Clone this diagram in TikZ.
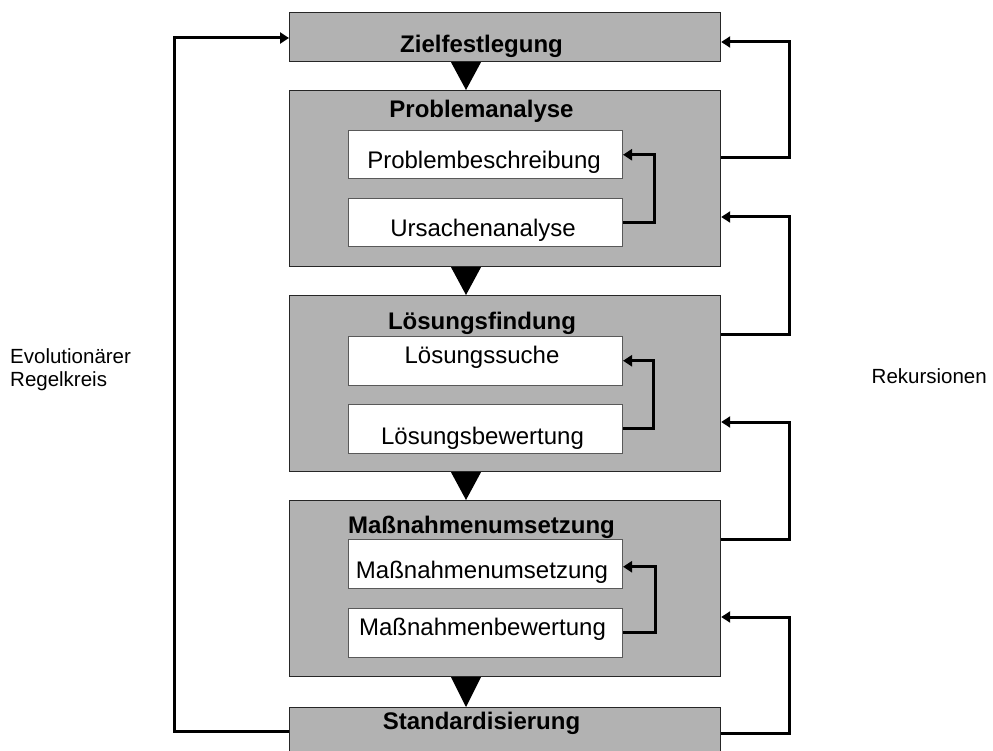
\documentclass[tikz,border=0pt]{standalone}
\usepackage{fontspec}
\setmainfont{Liberation Sans}
\usetikzlibrary{arrows.meta}
\definecolor{phasegray}{HTML}{B2B2B2}
\begin{document}
\begin{tikzpicture}[x=1pt,y=1pt,
  phase/.style={draw=black!85, line width=1.2pt, fill=phasegray, anchor=north west,
    inner sep=0pt, minimum width=431pt},
  stepbox/.style={draw=black!65, line width=1pt, fill=white, anchor=north west,
    inner sep=0pt, minimum width=274pt, minimum height=48.5pt},
  head/.style={font=\fontsize{24}{28}\selectfont\bfseries, anchor=base, inner sep=0pt},
  sub/.style={font=\fontsize{24}{28}\selectfont, anchor=base, inner sep=0pt},
  side/.style={font=\fontsize{20.5}{23}\selectfont, inner sep=0pt},
  conn/.style={line width=3pt, -{Triangle[length=9pt,width=11pt]}},
  flow/.style={fill=black}]
\useasboundingbox (0,0) rectangle (993,-751);

% phases of the cycle
\node[phase, minimum height=49pt]  (ziel) at (289,-12)  {};
\node[phase, minimum height=176pt] (prob) at (289,-90)  {};
\node[phase, minimum height=176pt] (loes) at (289,-295) {};
\node[phase, minimum height=176pt] (mass) at (289,-500) {};
\node[phase, minimum height=60pt]  (std)  at (289,-707) {};

\node[head] (zielt) at (481.5,-52.5)  {Zielfestlegung};
\node[head] (probt) at (481.5,-117.5) {Problemanalyse};
\node[head] (loest) at (482,-329.5)   {Lösungsfindung};
\node[head] (masst) at (481.5,-533)   {Maßnahmenumsetzung};
\node[head] (stdt)  at (481.5,-729.5) {Standardisierung};

% sub-steps
\node[stepbox] (pb) at (348,-130) {};
\node[stepbox] (ua) at (348,-198) {};
\node[stepbox] (ls) at (348,-336) {};
\node[stepbox] (lb) at (348,-404) {};
\node[stepbox] (mu) at (348,-539) {};
\node[stepbox] (mb) at (348,-608) {};

\node[sub] (pbt) at (484,-168.5)   {Problembeschreibung};
\node[sub] (uat) at (483,-236.5)   {Ursachenanalyse};
\node[sub] (lst) at (482,-363.5)   {Lösungssuche};
\node[sub] (lbt) at (482.5,-444.5) {Lösungsbewertung};
\node[sub] (mut) at (482,-578.5)   {Maßnahmenumsetzung};
\node[sub] (mbt) at (482.5,-635.5) {Maßnahmenbewertung};

% flow triangles between phases
\fill[flow] (ziel.south -| 451,0) -- (ziel.south -| 481,0) -- (prob.north -| 466,0) -- cycle;
\fill[flow] (prob.south -| 451,0) -- (prob.south -| 481,0) -- (loes.north -| 466,0) -- cycle;
\fill[flow] (loes.south -| 451,0) -- (loes.south -| 481,0) -- (mass.north -| 466,0) -- cycle;
\fill[flow] (mass.south -| 451,0) -- (mass.south -| 481,0) -- (std.north -| 466,0) -- cycle;

% inner loops
\draw[conn] (ua.east) -- ++(31,0) |- (pb.east);
\draw[conn] (lb.east) -- ++(30,0) |- (ls.east);
\draw[conn] (mb.east) -- ++(32,0) |- ([yshift=-3pt]mu.east);

% recursions
\draw[conn] ([yshift=-68pt]prob.north east) -- ++(68,0) |- ([yshift=-30pt]ziel.north east);
\draw[conn] ([yshift=-39pt]loes.north east) -- ++(68,0) |- ([yshift=-127pt]prob.north east);
\draw[conn] ([yshift=-39pt]mass.north east) -- ++(68,0) |- ([yshift=-127pt]loes.north east);
\draw[conn] ([yshift=-26pt]std.north east)  -- ++(68,0) |- ([yshift=-117pt]mass.north east);

% evolutionary loop
\draw[conn] ([yshift=-24pt]std.north west) -- ++(-115,0) |- ([yshift=-26pt]ziel.north west);

\node[side, anchor=base west] (evo) at (10,-363) {Evolutionärer};
\node[side, anchor=base west] (reg) at (10,-386) {Regelkreis};
\node[side, anchor=base east] (rek) at (987,-383) {Rekursionen};
\end{tikzpicture}
\end{document}
